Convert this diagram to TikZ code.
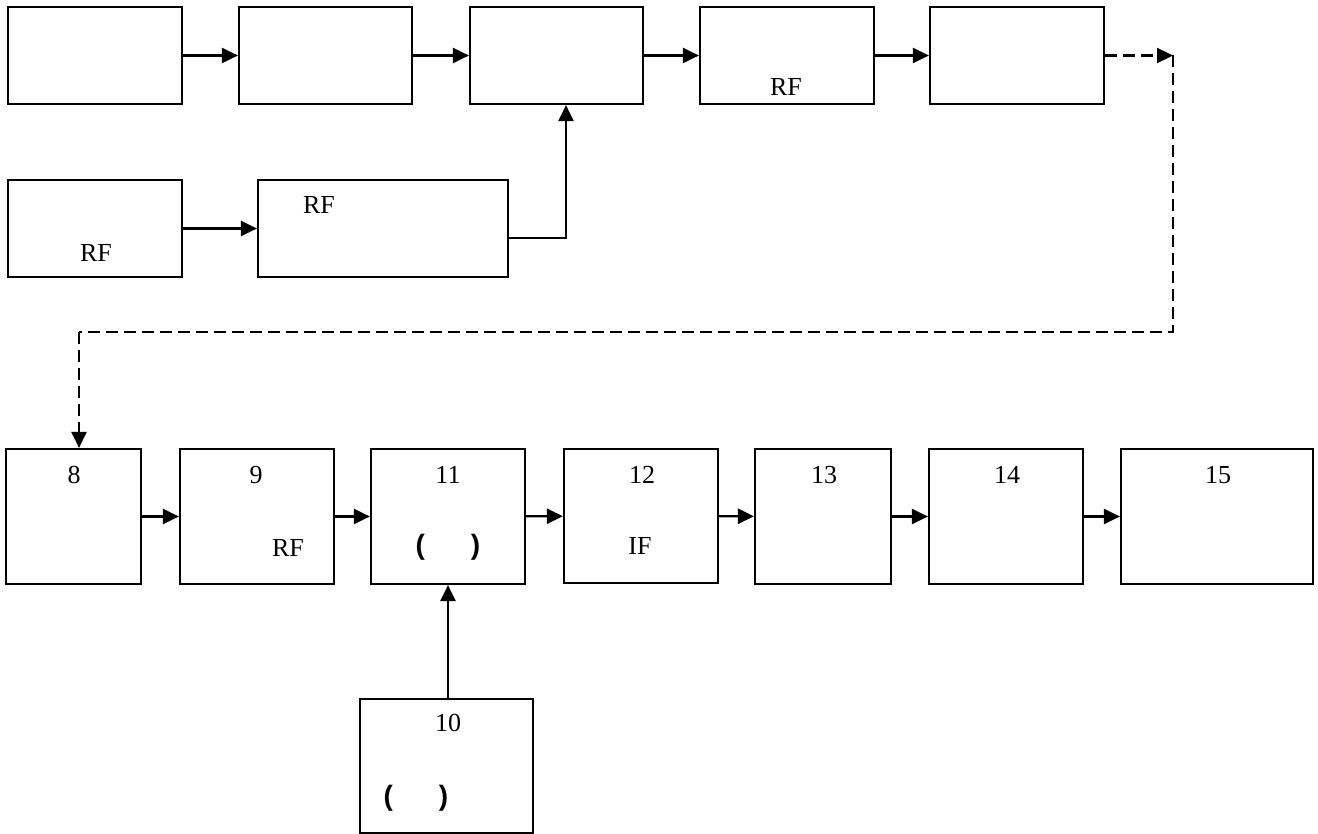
\documentclass[tikz,border=0pt]{standalone}
\usepackage{fontspec}
\setmainfont{Liberation Serif}
\newfontfamily\parfont{Liberation Sans}
\usetikzlibrary{arrows.meta}
\begin{document}
\begin{tikzpicture}[x=1pt,y=-1pt,
  blk/.style={draw,line width=2.2pt,inner sep=0pt},
  arr/.style={line width=2.2pt,-{Triangle[length=16pt,width=15pt]}},
  dsh/.style={line width=2.2pt,dash pattern=on 12pt off 6pt},
  lbl/.style={inner sep=0pt,font=\fontsize{26}{30}\selectfont},
  par/.style={inner sep=0pt,font=\fontsize{28}{32}\selectfont\parfont\bfseries}]
\useasboundingbox (0,0) rectangle (1318,834);
% boxes: corners
\newcommand{\mybox}[5]{\node[blk,minimum width={#4-#2},minimum height={#5-#3}] (#1) at ({(#2+#4)/2},{(#3+#5)/2}) {};}
\mybox{A}{8}{7}{182}{104}
\mybox{B}{239}{7}{412}{104}
\mybox{C}{470}{7}{643}{104}
\mybox{D}{700}{7}{874}{104}
\mybox{E}{930}{7}{1104}{104}
\mybox{F}{8}{180}{182}{277}
\mybox{G}{258}{180}{508}{277}
\mybox{N8}{6}{449}{141}{584}
\mybox{N9}{180}{449}{334}{584}
\mybox{N11}{371}{449}{525}{584}
\mybox{N12}{564}{449}{718}{583}
\mybox{N13}{755}{449}{891}{584}
\mybox{N14}{929}{449}{1083}{584}
\mybox{N15}{1121}{449}{1313}{584}
\mybox{N10}{360}{699}{533}{833}
% labels
\node[lbl] (tD) at (786,87) {RF};
\node[lbl] (tF) at (96,253) {RF};
\node[lbl] (tG) at (319,205) {RF};
\node[lbl] (t8) at (74,475) {8};
\node[lbl] (t9) at (256,475) {9};
\node[lbl] (t9b) at (288,548) {RF};
\node[lbl] (t11) at (448,475) {11};
\node[par] (p11) at (448,547) {(\hspace{46pt})};
\node[lbl] (t12) at (642,475) {12};
\node[lbl] (t12b) at (640,546) {IF};
\node[lbl] (t13) at (824,475) {13};
\node[lbl] (t14) at (1007,475) {14};
\node[lbl] (t15) at (1218,475) {15};
\node[lbl] (t10) at (448,723) {10};
\node[par] (p10) at (416,798) {(\hspace{46pt})};
% connectors
\draw[arr] (A) -- (B);
\draw[arr] (B) -- (C);
\draw[arr] (C) -- (D);
\draw[arr] (D) -- (E);
\draw[arr] (F) -- (G);
\draw[arr] ([yshift=-9.5pt]G.east) -| ([xshift=9.5pt]C.south);
\coordinate (c1) at (1173,55.5);
\coordinate (c2) at (1173,332);
\coordinate (c3) at (79,332);
\draw[dsh,arr] (E.east) -- (c1);
\draw[dsh] (c1) -- (c2) -- (c3);
\draw[dsh,arr] (c3) -- (c3 |- N8.north);
\draw[arr] (N8) -- (N9);
\draw[arr] (N9) -- (N11);
\draw[arr] (N11) -- (N12);
\draw[arr] (N12) -- (N13);
\draw[arr] (N13) -- (N14);
\draw[arr] (N14) -- (N15);
\draw[arr] (N10.north -| N11.south) -- (N11.south);
\end{tikzpicture}
\end{document}
